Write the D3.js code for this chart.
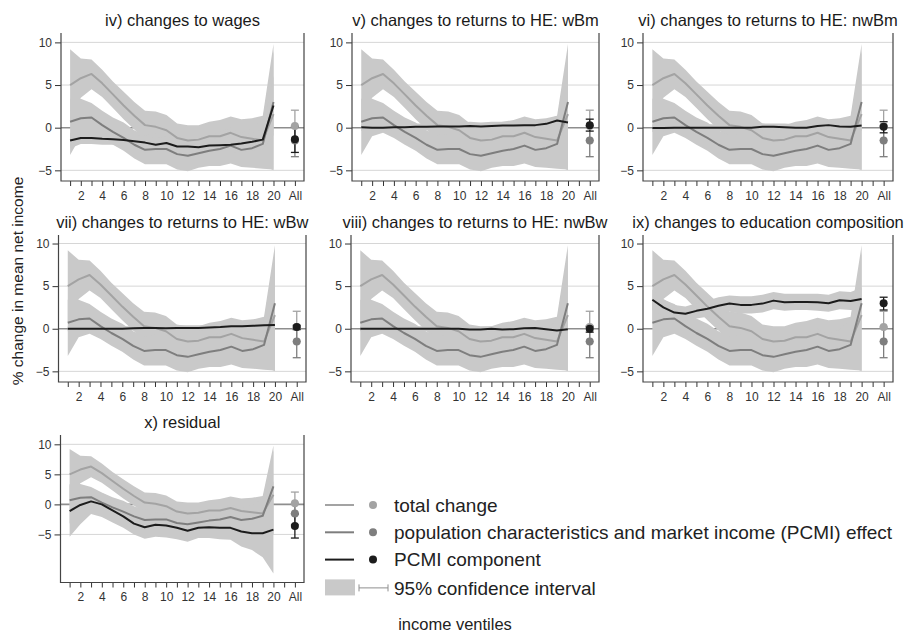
<!DOCTYPE html>
<html>
<head>
<meta charset="utf-8">
<script src="https://cdn.jsdelivr.net/npm/d3@7"></script>
<style>
  body { margin: 0; background: #fff; }
  svg { font-family: 'Liberation Sans', Arial, sans-serif; }
</style>
</head>
<body>
<div id="chart"></div>
<script>
// income ventiles 1..20, plus the "All" column at position 22
const ventiles = [1, 2, 3, 4, 5, 6, 7, 8, 9, 10, 11, 12, 13, 14, 15, 16, 17, 18, 19, 20];
const xTickValues = [1, 2, 3, 4, 5, 6, 7, 8, 9, 10, 11, 12, 13, 14, 15, 16, 17, 18, 19, 20, 21, 22];
const xTickLabels = ['', '2', '', '4', '', '6', '', '8', '', '10', '', '12', '', '14', '', '16', '', '18', '', '20', '', 'All'];
const yTickValues = [-5, 0, 5, 10];
const gridValues = [-5, 5, 10];

// same in every panel
const totalChange = [5.0, 5.8, 6.3, 5.2, 3.9, 2.6, 1.4, 0.3, 0.1, -0.3, -1.2, -1.5, -1.4, -1.0, -1.0, -0.6, -1.1, -1.3, -1.5, 1.6];
const totalHi = [9.2, 8.1, 8.0, 6.8, 5.4, 4.2, 3.0, 2.0, 1.9, 1.5, 0.5, 0.3, 0.3, 0.7, 0.9, 1.3, 1.0, 1.1, 1.4, 9.8];
const totalLo = [0.8, 3.5, 4.5, 3.6, 2.3, 1.0, -0.2, -1.4, -1.7, -2.1, -3.0, -3.3, -3.1, -2.7, -2.9, -2.6, -3.2, -3.6, -4.4, -5.0];
const totalAll = [0.2, -1.5, 2.05]; // value, lo, hi

const pcmiEffect = [0.7, 1.1, 1.2, 0.3, -0.5, -1.2, -2.0, -2.6, -2.5, -2.5, -3.1, -3.3, -3.0, -2.7, -2.5, -2.1, -2.6, -2.4, -1.9, 3.0];
const pcmiHi = [3.4, 3.4, 2.9, 2.0, 1.2, 0.6, -0.3, -0.9, -0.7, -0.7, -1.3, -1.5, -1.3, -0.9, -0.5, 0.0, -0.6, -0.1, 1.0, 9.0];
const pcmiLo = [-3.2, -1.0, -0.6, -1.2, -2.0, -2.7, -3.6, -4.3, -4.3, -4.3, -4.9, -5.1, -4.7, -4.5, -4.5, -4.2, -4.6, -4.7, -4.8, -4.9];
const pcmiAll = [-1.5, -3.4, 0.2];

// PCMI components, one per panel
const compWages = [-1.5, -1.2, -1.2, -1.3, -1.35, -1.45, -1.6, -1.75, -2.0, -1.8, -2.2, -2.2, -2.3, -2.1, -2.05, -2.0, -1.85, -1.65, -1.4, 2.6];
const compWagesLo = [-2.4, -1.9, -1.9, -2.0, -2.0, -2.1, -2.3, -2.5, -2.8, -2.6, -3.0, -3.0, -3.1, -2.9, -2.9, -2.9, -2.8, -2.7, -2.6, -0.9];
const compWagesHi = [-0.6, -0.5, -0.5, -0.6, -0.7, -0.8, -0.9, -1.0, -1.2, -1.0, -1.4, -1.4, -1.5, -1.3, -1.2, -1.1, -0.9, -0.6, -0.2, 6.1];
const compWagesAll = [-1.35, -2.9, 0.1];

const compWBm = [0.05, 0.0, 0.0, 0.05, 0.05, 0.1, 0.1, 0.15, 0.15, 0.15, 0.2, 0.15, 0.2, 0.25, 0.25, 0.3, 0.3, 0.45, 0.85, 0.6];
const compWBmLo = [-0.4, -0.4, -0.4, -0.3, -0.3, -0.3, -0.3, -0.3, -0.3, -0.3, -0.3, -0.3, -0.3, -0.2, -0.2, -0.2, -0.2, -0.1, 0.2, -0.2];
const compWBmHi = [0.5, 0.4, 0.4, 0.4, 0.4, 0.5, 0.5, 0.6, 0.6, 0.6, 0.7, 0.6, 0.7, 0.7, 0.7, 0.8, 0.8, 0.9, 1.4, 1.4];
const compWBmAll = [0.3, -0.4, 1.0];

const compNwBm = [-0.05, -0.05, 0.0, 0.0, 0.0, 0.0, 0.0, 0.0, 0.0, 0.0, 0.1, 0.1, 0.05, 0.0, 0.0, 0.2, 0.3, 0.15, 0.1, 0.25];
const compNwBmLo = [-0.5, -0.5, -0.4, -0.4, -0.4, -0.4, -0.4, -0.4, -0.4, -0.4, -0.3, -0.3, -0.4, -0.4, -0.4, -0.2, -0.1, -0.3, -0.4, -0.4];
const compNwBmHi = [0.4, 0.4, 0.4, 0.4, 0.4, 0.4, 0.4, 0.4, 0.4, 0.4, 0.5, 0.5, 0.5, 0.4, 0.4, 0.6, 0.7, 0.6, 0.6, 0.9];
const compNwBmAll = [0.1, -0.6, 0.7];

const compWBw = [0.0, 0.0, 0.0, 0.0, 0.0, 0.0, 0.05, 0.1, 0.1, 0.05, 0.1, 0.1, 0.1, 0.15, 0.2, 0.3, 0.3, 0.35, 0.4, 0.45];
const compWBwLo = [-0.3, -0.3, -0.3, -0.3, -0.3, -0.3, -0.2, -0.2, -0.2, -0.2, -0.2, -0.2, -0.2, -0.1, -0.1, 0.0, 0.0, 0.0, 0.0, -0.1];
const compWBwHi = [0.3, 0.3, 0.3, 0.3, 0.3, 0.3, 0.3, 0.4, 0.4, 0.3, 0.4, 0.4, 0.4, 0.4, 0.5, 0.6, 0.6, 0.7, 0.8, 1.0];
const compWBwAll = [0.2, -0.1, 0.4];

const compNwBw = [0.0, 0.0, 0.0, 0.0, 0.0, 0.0, 0.0, 0.0, 0.0, 0.0, -0.1, -0.1, 0.0, -0.1, -0.05, 0.05, 0.1, -0.05, -0.2, -0.05];
const compNwBwLo = [-0.3, -0.3, -0.3, -0.3, -0.3, -0.3, -0.3, -0.3, -0.3, -0.3, -0.4, -0.4, -0.3, -0.4, -0.4, -0.3, -0.2, -0.4, -0.6, -0.6];
const compNwBwHi = [0.3, 0.3, 0.3, 0.3, 0.3, 0.3, 0.3, 0.3, 0.3, 0.3, 0.2, 0.2, 0.3, 0.2, 0.3, 0.4, 0.4, 0.3, 0.2, 0.5];
const compNwBwAll = [0.0, -0.4, 0.3];

const compEdu = [3.4, 2.5, 1.9, 1.75, 2.1, 2.35, 2.7, 2.95, 2.8, 2.8, 2.95, 3.3, 3.1, 3.15, 3.15, 3.1, 3.0, 3.35, 3.25, 3.5];
const compEduLo = [2.2, 1.5, 1.0, 0.9, 1.2, 1.4, 1.7, 2.0, 1.8, 1.8, 1.9, 2.3, 2.1, 2.2, 2.2, 2.1, 2.0, 2.3, 2.2, 2.2];
const compEduHi = [4.6, 3.5, 2.8, 2.6, 3.0, 3.3, 3.7, 3.9, 3.8, 3.8, 4.0, 4.3, 4.1, 4.1, 4.1, 4.1, 4.0, 4.4, 4.3, 4.8];
const compEduAll = [3.0, 2.2, 3.7];

const compResid = [-1.1, -0.1, 0.5, 0.0, -1.0, -2.0, -3.2, -3.8, -3.4, -3.5, -3.9, -4.4, -3.9, -3.8, -3.9, -3.9, -4.5, -4.8, -4.8, -4.2];
const compResidLo = [-5.4, -3.3, -1.6, -2.1, -3.0, -3.9, -5.0, -5.7, -5.4, -5.5, -5.8, -6.2, -5.6, -5.6, -5.8, -5.9, -7.0, -7.6, -8.8, -11.5];
const compResidHi = [3.2, 2.8, 2.6, 1.9, 1.0, -0.1, -1.4, -2.0, -1.4, -1.5, -2.0, -2.6, -2.2, -2.0, -2.0, -1.9, -2.0, -2.0, -1.1, 3.9];
const compResidAll = [-3.6, -5.6, -1.6];

const panelTitles = [
  'iv) changes to wages',
  'v) changes to returns to HE: wBm',
  'vi) changes to returns to HE: nwBm',
  'vii) changes to returns to HE: wBw',
  'viii) changes to returns to HE: nwBw',
  'ix) changes to education composition',
  'x) residual'
];

const legendLabels = [
  'total change',
  'population characteristics and market income (PCMI) effect',
  'PCMI component',
  '95% confidence interval'
];

// colours
const bandColor = '#c9c9c9';
const totalColor = '#a3a3a3';
const effectColor = '#7e7e7e';
const compColor = '#1c1c1c';

const panels = [
  { comp: compWages, lo: compWagesLo, hi: compWagesHi, all: compWagesAll },
  { comp: compWBm, lo: compWBmLo, hi: compWBmHi, all: compWBmAll },
  { comp: compNwBm, lo: compNwBmLo, hi: compNwBmHi, all: compNwBmAll },
  { comp: compWBw, lo: compWBwLo, hi: compWBwHi, all: compWBwAll },
  { comp: compNwBw, lo: compNwBwLo, hi: compNwBwHi, all: compNwBwAll },
  { comp: compEdu, lo: compEduLo, hi: compEduHi, all: compEduAll },
  { comp: compResid, lo: compResidLo, hi: compResidHi, all: compResidAll }
].map((p, i) => Object.assign(p, { title: panelTitles[i] }));

// plot areas
const cells = [
  { x0: 61, x1: 304, top: 33, bottom: 181, domain: [-6.25, 11.1] },
  { x0: 352, x1: 599, top: 33, bottom: 181, domain: [-6.25, 11.1] },
  { x0: 643, x1: 893, top: 33, bottom: 181, domain: [-6.25, 11.1] },
  { x0: 58.5, x1: 306, top: 235, bottom: 382, domain: [-6.25, 11.0] },
  { x0: 351, x1: 599, top: 235, bottom: 382, domain: [-6.25, 11.0] },
  { x0: 643, x1: 893, top: 235, bottom: 382, domain: [-6.25, 11.0] },
  { x0: 60.5, x1: 304, top: 435, bottom: 582.5, domain: [-13, 11.55] }
];

const svg = d3.select('#chart')
  .append('svg')
  .attr('width', 904)
  .attr('height', 633);

panels.forEach(function (p, i) {
  const c = cells[i];
  const x = d3.scaleLinear().domain([0.15, 22.85]).range([c.x0, c.x1]);
  const y = d3.scaleLinear().domain(c.domain).range([c.bottom, c.top]);
  const g = svg.append('g');

  // grid + zero line
  g.selectAll('.grid')
    .data(gridValues)
    .enter()
    .append('line')
    .attr('x1', c.x0).attr('x2', c.x1)
    .attr('y1', d => y(d)).attr('y2', d => y(d))
    .attr('stroke', '#d6d6d6')
    .attr('stroke-width', 1);

  g.append('line')
    .attr('x1', c.x0).attr('x2', c.x1)
    .attr('y1', y(0)).attr('y2', y(0))
    .attr('stroke', '#8e8e8e')
    .attr('stroke-width', 1.6);

  // confidence bands
  const bands = [
    [totalLo, totalHi],
    [pcmiLo, pcmiHi],
    [p.lo, p.hi]
  ];
  const area = d3.area()
    .x((d, k) => x(ventiles[k]))
    .y0(d => y(d[0]))
    .y1(d => y(d[1]));
  bands.forEach(function (b) {
    g.append('path')
      .datum(b[0].map((lo, k) => [lo, b[1][k]]))
      .attr('d', area)
      .attr('fill', bandColor);
  });

  // lines
  const line = d3.line()
    .x((d, k) => x(ventiles[k]))
    .y(d => y(d));
  [[totalChange, totalColor], [pcmiEffect, effectColor], [p.comp, compColor]].forEach(function (s) {
    g.append('path')
      .datum(s[0])
      .attr('d', line)
      .attr('fill', 'none')
      .attr('stroke', s[1])
      .attr('stroke-width', 2)
      .attr('stroke-linejoin', 'round');
  });

  // "All" estimates with error bars
  const allX = x(22);
  [[totalAll, totalColor], [pcmiAll, effectColor], [p.all, compColor]].forEach(function (s) {
    const v = s[0];
    const eb = g.append('g').attr('stroke', s[1]).attr('stroke-width', 1.3);
    eb.append('line').attr('x1', allX).attr('x2', allX).attr('y1', y(v[1])).attr('y2', y(v[2]));
    eb.append('line').attr('x1', allX - 4).attr('x2', allX + 4).attr('y1', y(v[1])).attr('y2', y(v[1]));
    eb.append('line').attr('x1', allX - 4).attr('x2', allX + 4).attr('y1', y(v[2])).attr('y2', y(v[2]));
  });
  [[totalAll, totalColor], [pcmiAll, effectColor], [p.all, compColor]].forEach(function (s) {
    g.append('circle')
      .attr('cx', allX)
      .attr('cy', y(s[0][0]))
      .attr('r', 4)
      .attr('fill', s[1]);
  });

  // axes
  const yAxis = d3.axisLeft(y).tickValues(yTickValues).tickSize(6).tickPadding(3).tickFormat(d3.format('d'));
  const yG = g.append('g').attr('transform', `translate(${c.x0},0)`).call(yAxis);
  yG.select('.domain').remove();
  yG.selectAll('line').attr('stroke', '#333');
  yG.selectAll('text').attr('fill', '#333').style('font-size', '12px');

  const xAxis = d3.axisBottom(x).tickValues(xTickValues).tickSize(5).tickPadding(5)
    .tickFormat((d, k) => xTickLabels[k]);
  const xG = g.append('g').attr('transform', `translate(0,${c.bottom})`).call(xAxis);
  xG.select('.domain').remove();
  xG.selectAll('line').attr('stroke', '#333');
  xG.selectAll('text').attr('fill', '#333').style('font-size', '12px');

  // frame: left, bottom, right
  g.append('path')
    .attr('d', `M${c.x0},${c.top}V${c.bottom}H${c.x1}V${c.top}`)
    .attr('fill', 'none')
    .attr('stroke', '#444')
    .attr('stroke-width', 1.2);

  // title
  g.append('text')
    .attr('x', (c.x0 + c.x1) / 2)
    .attr('y', c.top - 7)
    .attr('text-anchor', 'middle')
    .attr('fill', '#1a1a1a')
    .style('font-size', '16.5px')
    .text(p.title);
});

// y label
svg.append('text')
  .attr('transform', 'translate(23,281) rotate(-90)')
  .attr('text-anchor', 'middle')
  .attr('fill', '#222')
  .style('font-size', '15.5px')
  .text('% change in mean net income');

// legend
const legend = svg.append('g').attr('transform', 'translate(325,505)');
const legendColors = [totalColor, effectColor, compColor];
legendColors.forEach(function (col, i) {
  const ly = i * 27.3;
  legend.append('line').attr('x1', 0).attr('x2', 29).attr('y1', ly).attr('y2', ly)
    .attr('stroke', col).attr('stroke-width', 2);
  legend.append('circle').attr('cx', 48).attr('cy', ly).attr('r', 4).attr('fill', col);
});
const ciY = 3 * 27.3 + 1;
legend.append('rect').attr('x', 0).attr('y', ciY - 8.5).attr('width', 30).attr('height', 16).attr('fill', bandColor);
legend.append('line').attr('x1', 34).attr('x2', 63).attr('y1', ciY).attr('y2', ciY).attr('stroke', '#8e8e8e').attr('stroke-width', 1);
legend.append('line').attr('x1', 34).attr('x2', 34).attr('y1', ciY - 3.5).attr('y2', ciY + 3.5).attr('stroke', '#8e8e8e').attr('stroke-width', 1);
legend.append('line').attr('x1', 63).attr('x2', 63).attr('y1', ciY - 3.5).attr('y2', ciY + 3.5).attr('stroke', '#8e8e8e').attr('stroke-width', 1);
legendLabels.forEach(function (lab, i) {
  legend.append('text')
    .attr('x', 69)
    .attr('y', i * 27.3 + (i === 3 ? 1 : 0))
    .attr('dy', '0.35em')
    .attr('fill', '#222')
    .style('font-size', '19px')
    .text(lab);
});

// x label
svg.append('text')
  .attr('x', 455)
  .attr('y', 630)
  .attr('text-anchor', 'middle')
  .attr('fill', '#222')
  .style('font-size', '16.5px')
  .text('income ventiles');
</script>
</body>
</html>
